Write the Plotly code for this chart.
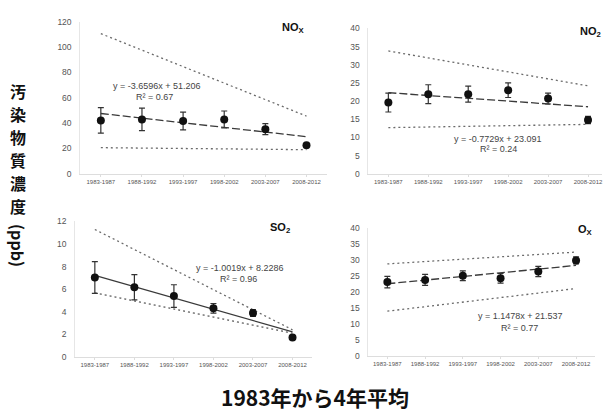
import plotly.graph_objects as go

W, H = 603, 412

periods = ["1983-1987", "1988-1992", "1993-1997", "1998-2002", "2003-2007", "2008-2012"]
xpos = [1, 2, 3, 4, 5, 6]

# NOx
nox_mean = [42.1, 42.9, 41.6, 42.8, 35.2, 22.5]
nox_err = [10.0, 8.9, 7.0, 6.7, 4.3, 0.0]
nox_upper = [110.5, 45.5]
nox_lower = [20.6, 19.0]
nox_trend = [-3.6596, 51.206]

# NO2
no2_mean = [19.6, 21.9, 21.9, 23.0, 20.7, 14.8]
no2_err = [2.6, 2.6, 2.2, 2.0, 1.5, 1.0]
no2_upper = [33.8, 24.2]
no2_lower = [12.7, 13.6]
no2_trend = [-0.7729, 23.091]

# SO2
so2_mean = [7.03, 6.17, 5.39, 4.30, 3.88, 1.73]
so2_err = [1.40, 1.12, 1.00, 0.43, 0.30, 0.0]
so2_upper = [11.28, 2.4]
so2_lower = [5.67, 2.1]
so2_trend = [-1.0019, 8.2286]

# Ox
ox_mean = [23.2, 23.9, 25.2, 24.4, 26.5, 30.0]
ox_err = [1.8, 1.7, 1.5, 1.5, 1.6, 1.1]
ox_upper = [28.9, 32.6]
ox_lower = [14.1, 21.2]
ox_trend = [1.1478, 21.537]

ytitle_chars = "汚染物質濃度"
ytitle_unit = "(ppb)"
xtitle = "1983年から4年平均"


def px_x(p):
    return p / W


def px_y(p):
    return 1 - p / H


panels = [
    dict(mean=nox_mean, err=nox_err, up=nox_upper, lo=nox_lower, tr=nox_trend, dash="8px,3px",
         xd=(80.4, 327.6), yd=(17, 173), yr=[0, 120], dt=20, xr=[0.5, 6.5],
         label="NO<sub>X</sub>", lab=(294, 24), labanchor="center",
         eq="y = -3.6596x + 51.206", eqp=(157, 83), r2="R² = 0.67", r2p=(155, 94)),
    dict(mean=no2_mean, err=no2_err, up=no2_upper, lo=no2_lower, tr=no2_trend, dash="8px,3px",
         xd=(369, 603), yd=(24, 173), yr=[0, 40], dt=5, xr=[0.5, 6.35],
         label="NO<sub>2</sub>", lab=(579, 28), labanchor="left",
         eq="y = -0.7729x + 23.091", eqp=(499, 137), r2="R² = 0.24", r2p=(499, 148)),
    dict(mean=so2_mean, err=so2_err, up=so2_upper, lo=so2_lower, tr=so2_trend, dash="solid",
         xd=(75.2, 312.8), yd=(221.7, 360.7), yr=[0, 12], dt=2, xr=[0.5, 6.5],
         label="SO<sub>2</sub>", lab=(280, 229), labanchor="center",
         eq="y = -1.0019x + 8.2286", eqp=(240, 270), r2="R² = 0.96", r2p=(239, 281)),
    dict(mean=ox_mean, err=ox_err, up=ox_upper, lo=ox_lower, tr=ox_trend, dash="8px,3px",
         xd=(369.1, 595.9), yd=(229, 360), yr=[0, 40], dt=5, xr=[0.5, 6.5],
         label="O<sub>X</sub>", lab=(586, 231), labanchor="center",
         eq="y = 1.1478x + 21.537", eqp=(521, 319), r2="R² = 0.77", r2p=(520, 331)),
]

fig = go.Figure()
annotations = []
layout = {}
for i, p in enumerate(panels):
    n = i + 1
    xa = "x" if n == 1 else f"x{n}"
    ya = "y" if n == 1 else f"y{n}"
    for b in (p["up"], p["lo"]):
        fig.add_trace(go.Scatter(x=[xpos[0], xpos[-1]], y=b, mode="lines", xaxis=xa, yaxis=ya,
                                 line=dict(color="#6a6a6a", width=1.3, dash="2px,3px"),
                                 showlegend=False, hoverinfo="skip"))
    m, c = p["tr"]
    fig.add_trace(go.Scatter(x=[xpos[0], xpos[-1]], y=[m * xpos[0] + c, m * xpos[-1] + c],
                             mode="lines", xaxis=xa, yaxis=ya,
                             line=dict(color="#3a3a3a", width=1.3, dash=p["dash"]),
                             showlegend=False, hoverinfo="skip"))
    fig.add_trace(go.Scatter(x=xpos, y=p["mean"], mode="markers", xaxis=xa, yaxis=ya,
                             marker=dict(color="#111111", size=8),
                             error_y=dict(type="data", array=p["err"], visible=True,
                                          color="#333333", thickness=1.2, width=3),
                             showlegend=False))
    layout["xaxis" if n == 1 else f"xaxis{n}"] = dict(
        domain=[px_x(p["xd"][0]), min(1, px_x(p["xd"][1]))], range=p["xr"],
        anchor=ya, tickvals=xpos, ticktext=periods,
        tickfont=dict(size=6, color="#555555", family="Liberation Sans"),
        showgrid=False, zeroline=False, showline=True, linecolor="#dddddd", linewidth=1,
        ticks="outside", ticklen=2, tickcolor="#dddddd", tickangle=0, fixedrange=True,
        ticklabeloverflow="allow")
    layout["yaxis" if n == 1 else f"yaxis{n}"] = dict(
        domain=[px_y(p["yd"][1]), px_y(p["yd"][0])], range=p["yr"], dtick=p["dt"],
        anchor=xa, tickfont=dict(size=8.5, color="#555555", family="Liberation Sans"),
        showgrid=False, zeroline=False, showline=True, linecolor="#e6e6e6", linewidth=1,
        ticks="", ticklabelstandoff=6, fixedrange=True)
    annotations.append(dict(text="<b>" + p["label"] + "</b>", x=px_x(p["lab"][0]), y=px_y(p["lab"][1]),
                            xref="paper", yref="paper", showarrow=False,
                            font=dict(size=11, color="#111111", family="Liberation Sans"),
                            xanchor=p["labanchor"], yanchor="middle"))
    annotations.append(dict(text=p["eq"], x=px_x(p["eqp"][0]), y=px_y(p["eqp"][1]),
                            xref="paper", yref="paper", showarrow=False,
                            font=dict(size=9, color="#444444", family="Liberation Sans"),
                            xanchor="center", yanchor="middle"))
    annotations.append(dict(text=p["r2"], x=px_x(p["r2p"][0]), y=px_y(p["r2p"][1]),
                            xref="paper", yref="paper", showarrow=False,
                            font=dict(size=9, color="#444444", family="Liberation Sans"),
                            xanchor="center", yanchor="middle"))

# vertical stacked y-axis title, one character per annotation
for k, ch in enumerate(ytitle_chars):
    annotations.append(dict(text="<b>" + ch + "</b>", x=px_x(18), y=px_y(88 + 23.5 * k),
                            xref="paper", yref="paper", showarrow=False,
                            borderpad=0,
                            font=dict(size=16, color="#111111", family="Noto Sans CJK JP"),
                            xanchor="center", yanchor="middle"))
annotations.append(dict(text="<b>" + ytitle_unit + "</b>", textangle=90,
                        x=px_x(18), y=px_y(247), xref="paper", yref="paper", showarrow=False,
                        borderpad=0,
                        font=dict(size=16, color="#111111", family="Noto Sans CJK JP"),
                        xanchor="center", yanchor="middle"))
annotations.append(dict(text="<b>" + xtitle + "</b>",
                        x=px_x(316), y=px_y(402), xref="paper", yref="paper", showarrow=False,
                        font=dict(size=21, color="#111111", family="Noto Sans CJK JP"),
                        xanchor="center", yanchor="middle"))

fig.update_layout(width=W, height=H, margin=dict(l=0, r=0, t=0, b=0),
                  paper_bgcolor="white", plot_bgcolor="white",
                  annotations=annotations, showlegend=False, **layout)

fig.write_html("out.html")
